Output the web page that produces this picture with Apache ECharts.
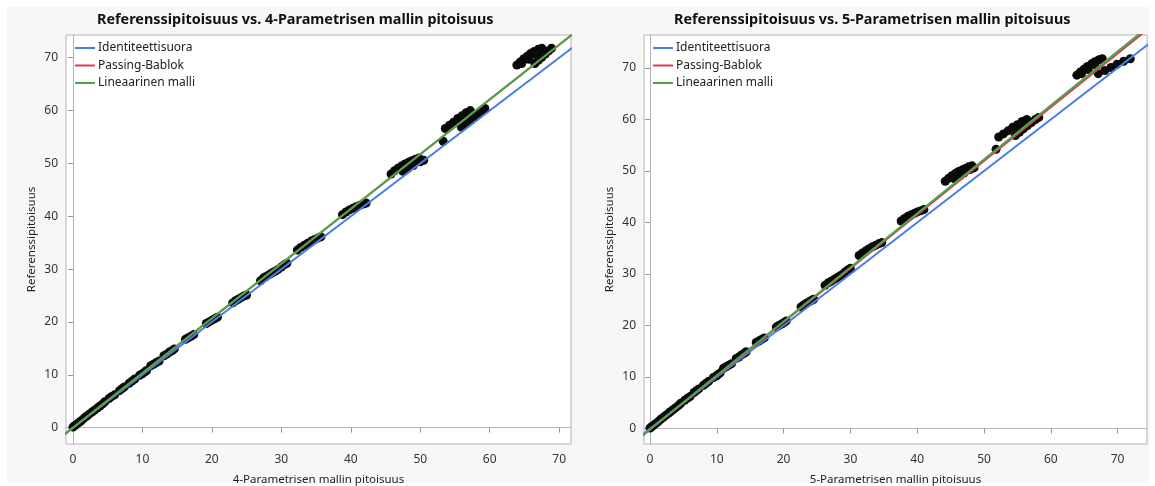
<!DOCTYPE html>
<html><head><meta charset="utf-8">
<script src="https://cdn.jsdelivr.net/npm/echarts@6/dist/echarts.min.js"></script>
<style>html,body{margin:0;padding:0;background:#fff}#c{width:1155px;height:486px}</style>
</head><body><div id="c"></div>
<script>
const xTicks = [0, 10, 20, 30, 40, 50, 60, 70];
const yTicks = [0, 10, 20, 30, 40, 50, 60, 70];
const titles = ['Referenssipitoisuus vs. 4-Parametrisen mallin pitoisuus', 'Referenssipitoisuus vs. 5-Parametrisen mallin pitoisuus'];
const xNames = ['4-Parametrisen mallin pitoisuus', '5-Parametrisen mallin pitoisuus'];
const yName = 'Referenssipitoisuus';
const lineNames = ['Identiteettisuora', 'Passing-Bablok', 'Lineaarinen malli'];
// [intercept, slope] for identity, Passing-Bablok, linear model
const fit4 = [[0, 1], [-0.02, 1.035], [-0.05, 1.036]];
const fit5 = [[0, 1], [-0.2, 1.043], [-0.15, 1.048]];

// 4-parameter model: [measured, reference]
const points4 = [
  [0.0,0.1],[0.3,0.4],[0.6,0.7],[0.9,1.0],[1.2,1.3],
  [1.6,1.8],[2.0,2.2],[2.4,2.6],[2.8,3.0],[3.1,3.3],
  [3.5,3.7],[3.9,4.1],[4.3,4.5],[4.6,4.9],
  [5.2,5.5],[5.6,5.9],[6.0,6.2],
  [6.7,7.0],[7.1,7.4],[7.4,7.7],
  [8.1,8.4],[8.5,8.8],[8.9,9.2],
  [9.6,9.9],[10.0,10.2],[10.3,10.5],[10.6,10.8],
  [11.2,11.7],[11.6,12.0],[12.0,12.3],[12.4,12.6],
  [13.1,13.6],[13.5,13.9],[13.9,14.3],[14.3,14.6],[14.6,14.9],
  [16.2,16.7],[16.6,17.0],[17.0,17.3],[17.4,17.6],
  [19.2,19.7],[19.6,20.0],[20.0,20.3],[20.4,20.6],[20.8,20.9],
  [23.0,23.6],[23.4,24.0],[23.8,24.3],[24.2,24.6],[24.6,24.9],[25.0,25.1],
  [27.0,27.8],[27.4,28.3],[27.8,28.6],[28.3,29.0],[28.7,29.3],[29.1,29.6],[29.5,29.9],
  [30.0,30.4],[30.4,30.8],[30.8,31.1],
  [32.3,33.6],[32.8,34.1],[33.3,34.5],[33.8,34.9],[34.3,35.3],[34.8,35.6],[35.3,35.9],[35.7,36.1],
  [38.8,40.3],[39.3,40.8],[39.8,41.2],[40.3,41.5],[40.8,41.8],[41.3,42.1],[41.8,42.3],[42.2,42.5],
  [45.8,48.0],[46.3,48.6],[46.8,49.1],[47.3,49.5],[47.8,49.9],[48.3,50.2],[48.8,50.5],[49.3,50.8],[49.8,51.0],
  [47.5,48.5],[48.2,49.0],[49.0,49.6],[50.0,50.3],[50.5,50.6],
  [53.3,54.2],
  [53.6,56.6],[54.2,57.2],[54.8,57.8],[55.4,58.5],[56.0,59.0],[56.6,59.6],[57.2,60.0],
  [55.9,56.9],[56.5,57.5],[57.1,58.2],[57.7,58.8],[58.3,59.4],[58.9,60.0],[59.3,60.4],
  [63.9,68.6],[64.4,69.2],[64.9,69.8],[65.4,70.3],[65.9,70.8],[66.4,71.2],[67.0,71.6],[67.5,71.8],
  [64.6,68.9],[65.6,69.7],[66.6,70.6],
  [66.5,68.9],[67.0,69.5],[67.5,70.1],[68.0,70.7],[68.5,71.3],[68.9,71.8]
];

// 5-parameter model: [measured, reference]
const points5 = [
  [0.0,0.1],[0.3,0.4],[0.6,0.7],[0.9,1.0],[1.2,1.3],
  [1.6,1.8],[2.0,2.2],[2.4,2.6],[2.8,3.0],[3.1,3.3],
  [3.5,3.7],[3.9,4.1],[4.3,4.5],[4.6,4.9],
  [5.2,5.5],[5.6,5.9],[6.0,6.2],
  [6.6,7.0],[7.0,7.4],[7.3,7.7],
  [8.0,8.4],[8.4,8.8],[8.8,9.2],
  [9.5,9.9],[9.9,10.2],[10.2,10.5],[10.5,10.8],
  [11.0,11.7],[11.4,12.0],[11.8,12.3],[12.2,12.6],
  [12.9,13.6],[13.3,13.9],[13.7,14.3],[14.1,14.6],[14.4,14.9],
  [15.9,16.7],[16.3,17.0],[16.7,17.3],[17.1,17.6],
  [18.9,19.7],[19.3,20.0],[19.7,20.3],[20.1,20.6],[20.4,20.9],
  [22.6,23.6],[23.0,24.0],[23.4,24.3],[23.8,24.6],[24.2,24.9],[24.5,25.1],
  [26.2,27.8],[26.7,28.3],[27.1,28.6],[27.6,29.0],[28.0,29.3],[28.4,29.6],[28.8,29.9],
  [29.2,30.4],[29.6,30.8],[30.0,31.1],
  [31.3,33.6],[31.8,34.1],[32.3,34.5],[32.8,34.9],[33.3,35.3],[33.8,35.6],[34.3,35.9],[34.7,36.1],
  [37.6,40.3],[38.1,40.8],[38.6,41.2],[39.1,41.5],[39.6,41.8],[40.1,42.1],[40.6,42.3],[41.0,42.5],
  [44.2,48.0],[44.7,48.6],[45.2,49.1],[45.7,49.5],[46.2,49.9],[46.7,50.2],[47.2,50.5],[47.7,50.8],[48.2,51.0],
  [45.6,48.5],[46.3,49.0],[47.0,49.6],[47.9,50.3],[48.5,50.6],
  [51.8,54.2],
  [52.2,56.6],[52.9,57.2],[53.6,57.8],[54.3,58.5],[55.0,59.0],[55.7,59.6],[56.4,60.0],
  [54.7,56.9],[55.3,57.5],[55.9,58.2],[56.5,58.8],[57.1,59.4],[57.7,60.0],[58.2,60.4],
  [63.9,68.6],[64.4,69.2],[65.0,69.8],[65.5,70.3],[66.1,70.8],[66.6,71.2],[67.2,71.6],[67.7,71.8],
  [64.6,68.9],[65.6,69.7],[66.6,70.6],
  [67.1,68.9],[68.1,69.5],[69.0,70.1],[69.9,70.7],[70.9,71.3],[71.9,71.8]
];

const lineColors = ['#4a7ee6', '#d6404e', '#4ba54b'];
const FONT = 'Noto Sans';
const axisGrey = '#b4b4b4';

const grids = [
  {left: 66, top: 35, width: 505, height: 409},
  {left: 644, top: 35, width: 503, height: 409}
];
const xRanges = [[-1.0, 71.7], [-0.9, 74.4]];
const yRanges = [[-3.1, 74.3], [-3.0, 76.4]];

function fitLine(f) {
  const x0 = -10, x1 = 90;
  return [[x0, f[0] + f[1] * x0], [x1, f[0] + f[1] * x1]];
}

const option = {
  animation: false,
  backgroundColor: '#ffffff',
  graphic: [{type: 'rect', z: -10, shape: {x: 7, y: 7, width: 1143, height: 476}, style: {fill: '#f7f7f7'}}],
  title: titles.map((t, i) => ({
    text: t, left: i === 0 ? 97 : 674, top: 13, padding: 0,
    textStyle: {fontFamily: FONT, fontSize: 14.4, fontWeight: 'bold', color: '#111'}
  })),
  legend: grids.map((g) => ({
    orient: 'vertical', left: g.left + 9, top: 42, padding: 0, itemWidth: 20, itemHeight: 2, itemGap: 5.5,
    icon: 'rect', data: lineNames, selectedMode: false,
    textStyle: {fontFamily: FONT, fontSize: 12, color: '#222', padding: [0, 0, 0, -2]}
  })),
  grid: grids.map(g => Object.assign({show: true, containLabel: false, outerBoundsMode: 'none',
    backgroundColor: '#ffffff', borderColor: axisGrey, borderWidth: 1}, g)),
  xAxis: [0, 1].map(i => ({
    type: 'value', gridIndex: i, min: xRanges[i][0], max: xRanges[i][1],
    name: xNames[i], nameLocation: 'middle', nameGap: 30,
    nameTextStyle: {fontFamily: FONT, fontSize: 11.5, color: '#222'},
    axisLine: {show: true, lineStyle: {color: axisGrey}},
    axisTick: {show: true, length: 5, lineStyle: {color: '#999'}, customValues: xTicks},
    axisLabel: {fontFamily: FONT, fontSize: 12, color: '#333', margin: 10, customValues: xTicks},
    splitLine: {show: false}
  })),
  yAxis: [0, 1].map(i => ({
    type: 'value', gridIndex: i, min: yRanges[i][0], max: yRanges[i][1],
    name: yName, nameLocation: 'middle', nameGap: 28,
    nameTextStyle: {fontFamily: FONT, fontSize: 11.5, color: '#222'},
    axisLine: {show: true, lineStyle: {color: axisGrey}},
    axisTick: {show: true, length: 5, lineStyle: {color: '#999'}, customValues: yTicks},
    axisLabel: {fontFamily: FONT, fontSize: 12, color: '#333', margin: 8, customValues: yTicks},
    splitLine: {show: false}
  })),
  series: []
};

[[points4, fit4], [points5, fit5]].forEach(([pts, fits], i) => {
  option.series.push({
    type: 'scatter', xAxisIndex: i, yAxisIndex: i, data: pts, symbolSize: 9, z: 2,
    itemStyle: {color: '#0a0a0a', opacity: 1}
  });
  [0, 1, 2].forEach(k => {
    option.series.push({
      type: 'line', name: lineNames[k], xAxisIndex: i, yAxisIndex: i, data: fitLine(fits[k]),
      symbol: 'none', clip: true, z: 3 + k,
      lineStyle: {color: lineColors[k], width: 2}, itemStyle: {color: lineColors[k]}
    });
  });
});

const chart = echarts.init(document.getElementById('c'), null, {renderer: 'canvas'});
chart.setOption(option);
</script></body></html>
